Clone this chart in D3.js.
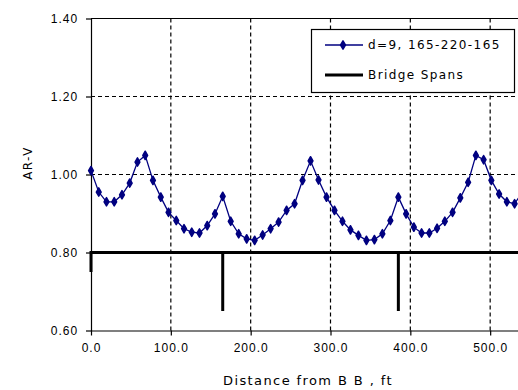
<!DOCTYPE html>
<html>
<head>
<meta charset="utf-8">
<script src="https://cdn.jsdelivr.net/npm/d3@7"></script>
<style>
  body { margin: 0; background: #fff; }
  svg { display: block; font-family: "DejaVu Sans", sans-serif; }
  .lbl { font-size: 12px; letter-spacing: 1px; fill: #000; }
</style>
</head>
<body>
<svg id="chart" width="518" height="390"></svg>
<script>
// distance from BB (ft) and AR-V values
const distances = [
  0, 9.7, 19.4, 29.1, 38.8, 48.5, 58.2, 67.9, 77.6, 87.4, 97.1, 106.8, 116.5, 126.2, 135.9, 145.6, 155.3,
  165, 175, 185, 195, 205, 215, 225, 235, 245, 255, 265, 275, 285, 295, 305, 315, 325, 335, 345, 355, 365, 375,
  385, 394.7, 404.4, 414.1, 423.8, 433.5, 443.2, 452.9, 462.6, 472.4, 482.1, 491.8, 501.5, 511.2, 520.9, 530.6, 540.3, 550
];
const arv = [
  1.010, 0.955, 0.930, 0.930, 0.948, 0.978, 1.032, 1.049, 0.985, 0.942, 0.903, 0.882, 0.861, 0.852, 0.850, 0.869, 0.899,
  0.944, 0.880, 0.848, 0.835, 0.831, 0.845, 0.861, 0.878, 0.908, 0.925, 0.985, 1.035, 0.986, 0.942, 0.908, 0.880, 0.858, 0.844, 0.831, 0.833, 0.848, 0.882,
  0.942, 0.899, 0.865, 0.850, 0.850, 0.862, 0.880, 0.903, 0.940, 0.980, 1.049, 1.038, 0.985, 0.950, 0.930, 0.925, 0.955, 1.010
];
// bridge span outline (supports drawn as drops below 0.80)
const spanX = [0, 0, 165, 165, 165, 385, 385, 385, 550, 550];
const spanY = [0.75, 0.80, 0.80, 0.65, 0.80, 0.80, 0.65, 0.80, 0.80, 0.75];

const xTicks = [0, 100, 200, 300, 400, 500];
const yTicks = [0.60, 0.80, 1.00, 1.20, 1.40];
const seriesNames = ["d=9, 165-220-165", "Bridge Spans"];

const svg = d3.select("#chart");
const x = d3.scaleLinear().domain([0, 600]).range([91, 570]);
const y = d3.scaleLinear().domain([0.6, 1.4]).range([330.5, 18.5]);
const navy = "#000080";

// 网格线
svg.append("g")
  .selectAll("line")
  .data(xTicks.slice(1))
  .join("line")
  .attr("x1", d => x(d)).attr("x2", d => x(d))
  .attr("y1", y(0.6)).attr("y2", y(1.4))
  .attr("stroke", "#000").attr("stroke-width", 1.2).attr("stroke-dasharray", "4,3");

svg.append("g")
  .selectAll("line")
  .data(yTicks.slice(1, -1))
  .join("line")
  .attr("x1", x(0)).attr("x2", x(600))
  .attr("y1", d => y(d)).attr("y2", d => y(d))
  .attr("stroke", "#000").attr("stroke-width", 1.2).attr("stroke-dasharray", "4,3");

// top border
svg.append("line")
  .attr("x1", x(0)).attr("x2", x(600))
  .attr("y1", y(1.4)).attr("y2", y(1.4))
  .attr("stroke", "#000").attr("stroke-width", 1.2);

// axes
const xAxis = svg.append("g")
  .attr("transform", `translate(0,${y(0.6)})`)
  .call(d3.axisBottom(x).tickValues(xTicks).tickSize(5).tickSizeOuter(0).tickFormat(d3.format(".1f")));
const yAxis = svg.append("g")
  .attr("transform", `translate(${x(0)},0)`)
  .call(d3.axisLeft(y).tickValues(yTicks).tickSize(5).tickSizeOuter(0).tickFormat(d3.format(".2f")));

[xAxis, yAxis].forEach(a => {
  a.select(".domain").attr("stroke", "#000").attr("stroke-width", 1.2);
  a.selectAll(".tick line").attr("stroke", "#000").attr("stroke-width", 1.2);
  a.selectAll(".tick text").attr("class", "lbl").attr("fill", "#000").style("font-size", "12px");
});
xAxis.selectAll(".tick text").attr("dy", "1.1em");
yAxis.selectAll(".tick text").attr("dx", "-0.4em");

// bridge spans
svg.append("path")
  .datum(spanX.map((d, i) => [d, spanY[i]]))
  .attr("fill", "none")
  .attr("stroke", "#000")
  .attr("stroke-width", 3)
  .attr("d", d3.line().x(d => x(d[0])).y(d => y(d[1])));

// AR-V series
const pts = distances.map((d, i) => [d, arv[i]]);
svg.append("path")
  .datum(pts)
  .attr("fill", "none")
  .attr("stroke", navy)
  .attr("stroke-width", 1.3)
  .attr("d", d3.line().x(d => x(d[0])).y(d => y(d[1])));

const marker = d3.symbol().type(d3.symbolDiamond).size(20);
svg.append("g")
  .selectAll("path")
  .data(pts)
  .join("path")
  .attr("transform", d => `translate(${x(d[0])},${y(d[1])})`)
  .attr("d", marker)
  .attr("fill", navy)
  .attr("stroke", navy)
  .attr("stroke-width", 1.5)
  .attr("stroke-linejoin", "round");

// axis titles
svg.append("text")
  .attr("class", "lbl")
  .attr("x", 308).attr("y", 385)
  .attr("text-anchor", "middle")
  .style("font-size", "13px")
  .style("letter-spacing", "1.4px")
  .text("Distance from B B , ft");

svg.append("text")
  .attr("class", "lbl")
  .attr("transform", "translate(32,163) rotate(-90)")
  .attr("text-anchor", "middle")
  .style("letter-spacing", "1.4px")
  .text("AR-V");

// legend
const legend = svg.append("g");
legend.append("rect")
  .attr("x", 311.5).attr("y", 29.5).attr("width", 203).attr("height", 63)
  .attr("fill", "#fff").attr("stroke", "#000").attr("stroke-width", 1.2);

legend.append("line")
  .attr("x1", 325).attr("x2", 363).attr("y1", 45).attr("y2", 45)
  .attr("stroke", navy).attr("stroke-width", 1.3);
legend.append("path")
  .attr("transform", "translate(343,45)")
  .attr("d", marker)
  .attr("fill", navy)
  .attr("stroke", navy)
  .attr("stroke-width", 1.5)
  .attr("stroke-linejoin", "round");
legend.append("line")
  .attr("x1", 325).attr("x2", 363).attr("y1", 75).attr("y2", 75)
  .attr("stroke", "#000").attr("stroke-width", 3);

legend.selectAll("text")
  .data(seriesNames)
  .join("text")
  .attr("class", "lbl")
  .attr("x", 368)
  .attr("y", (d, i) => 45 + i * 30)
  .attr("dy", "0.35em")
  .style("letter-spacing", "1.4px")
  .text(d => d);
</script>
</body>
</html>
